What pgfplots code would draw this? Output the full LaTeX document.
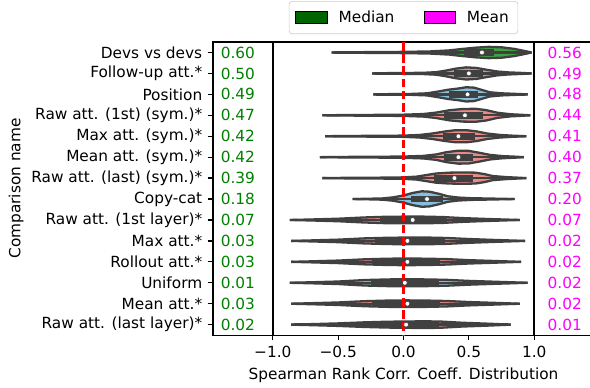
\documentclass[border=0pt]{standalone}
\usepackage{pgfplots}
\pgfplotsset{compat=1.18}
\usepackage{pgfplotstable}
\usepackage{fontspec}
\setmainfont{DejaVu Sans}
\definecolor{vgray}{HTML}{404040}
\definecolor{vsal}{HTML}{E88A85}
\definecolor{vblue}{HTML}{86C0DC}
\definecolor{vgreen}{HTML}{3FA33F}
\definecolor{mdgreen}{HTML}{006400}
\definecolor{txtgreen}{HTML}{008000}
\definecolor{txtmag}{HTML}{FF00FF}

% violin half-width profiles (x, half width in row units)
\pgfplotstableread{
x w
-0.55 0
-0.45 0.012
-0.20 0.02
0.00 0.03
0.20 0.05
0.35 0.10
0.45 0.17
0.55 0.23
0.65 0.27
0.75 0.25
0.85 0.17
0.92 0.08
0.98 0
}\tA
\pgfplotstableread{
x w
-0.24 0
-0.15 0.012
0.00 0.02
0.15 0.03
0.25 0.06
0.32 0.13
0.40 0.23
0.48 0.29
0.56 0.26
0.64 0.17
0.72 0.09
0.80 0.05
0.90 0.025
0.98 0
}\tB
\pgfplotstableread{
x w
-0.23 0
-0.10 0.012
0.05 0.02
0.18 0.05
0.26 0.13
0.34 0.22
0.42 0.28
0.48 0.34
0.54 0.32
0.60 0.21
0.66 0.10
0.75 0.05
0.85 0.025
0.95 0
}\tC
\pgfplotstableread{
x w
-0.62 0
-0.45 0.012
-0.20 0.02
0.00 0.03
0.15 0.06
0.25 0.13
0.35 0.24
0.45 0.30
0.55 0.31
0.63 0.25
0.72 0.12
0.82 0.05
0.90 0.025
0.97 0
}\tD
\pgfplotstableread{
x w
-0.60 0
-0.45 0.012
-0.20 0.02
0.00 0.03
0.12 0.06
0.22 0.13
0.32 0.23
0.40 0.29
0.48 0.29
0.56 0.23
0.64 0.13
0.74 0.06
0.84 0.025
0.94 0
}\tE
\pgfplotstableread{
x w
-0.64 0
-0.45 0.012
-0.20 0.02
0.00 0.03
0.15 0.06
0.25 0.13
0.33 0.24
0.42 0.31
0.50 0.30
0.58 0.21
0.66 0.11
0.76 0.05
0.85 0.025
0.92 0
}\tF
\pgfplotstableread{
x w
-0.62 0
-0.45 0.012
-0.20 0.02
0.00 0.035
0.10 0.07
0.18 0.15
0.25 0.22
0.35 0.26
0.45 0.27
0.55 0.26
0.62 0.19
0.68 0.10
0.78 0.05
0.86 0.025
0.94 0
}\tG
\pgfplotstableread{
x w
-0.39 0
-0.28 0.012
-0.16 0.03
-0.08 0.08
0.00 0.17
0.07 0.29
0.14 0.37
0.20 0.35
0.27 0.25
0.34 0.13
0.42 0.07
0.52 0.04
0.65 0.025
0.85 0
}\tH
\pgfplotstableread{
x w
-0.87 0
-0.70 0.025
-0.50 0.06
-0.30 0.12
-0.15 0.15
0.00 0.16
0.15 0.16
0.30 0.14
0.45 0.09
0.65 0.045
0.89 0
}\tI
\pgfplotstableread{
x w
-0.86 0
-0.70 0.025
-0.50 0.06
-0.30 0.12
-0.12 0.15
0.02 0.16
0.18 0.16
0.33 0.14
0.50 0.09
0.70 0.045
0.93 0
}\tJ
\pgfplotstableread{
x w
-0.86 0
-0.70 0.025
-0.50 0.06
-0.30 0.12
-0.12 0.15
0.02 0.16
0.18 0.15
0.33 0.13
0.50 0.08
0.70 0.04
0.90 0
}\tK
\pgfplotstableread{
x w
-0.87 0
-0.70 0.025
-0.50 0.06
-0.30 0.13
-0.12 0.16
0.02 0.17
0.18 0.16
0.33 0.14
0.50 0.09
0.72 0.045
0.95 0
}\tL
\pgfplotstableread{
x w
-0.86 0
-0.70 0.025
-0.50 0.06
-0.30 0.12
-0.12 0.15
0.02 0.16
0.18 0.15
0.33 0.13
0.50 0.08
0.70 0.04
0.89 0
}\tM
\pgfplotstableread{
x w
-0.86 0
-0.70 0.025
-0.50 0.06
-0.30 0.11
-0.12 0.14
0.02 0.15
0.15 0.16
0.28 0.15
0.45 0.09
0.65 0.045
0.82 0
}\tN

% row, colour, profile, lo, q1, q3, hi
\newcommand{\violin}[7]{%
  \addplot[vfill=#2] table[x=x, y expr=#1-\thisrow{w}] {#3};
  \addplot[vfill=#2] table[x=x, y expr=#1+\thisrow{w}] {#3};
  \addplot[vline] table[x=x, y expr=#1-\thisrow{w}] {#3};
  \addplot[vline] table[x=x, y expr=#1+\thisrow{w}] {#3};
  \addplot[whisk] coordinates {(#4,#1) (#7,#1)};
  \addplot[boxl] coordinates {(#5,#1) (#6,#1)};
}

\begin{document}
\begin{tikzpicture}
\begin{axis}[
  scale only axis,
  width=248.4pt, height=191.1pt,
  xmin=-1.457, xmax=1.457,
  ymin=-0.5, ymax=13.5, y dir=reverse,
  axis line style={line width=0.8pt},
  tick align=outside, tick pos=left,
  major tick length=3.5pt,
  every tick/.style={black, line width=0.8pt},
  xtick={-1,-0.5,0,0.5,1},
  xticklabels={−1.0,−0.5,0.0,0.5,1.0},
  ytick={0,...,13},
  yticklabels={Devs vs devs,Follow-up att.*,Position,Raw att. (1st) (sym.)*,Max att. (sym.)*,Mean att. (sym.)*,Raw att. (last) (sym.)*,Copy-cat,Raw att. (1st layer)*,Max att.*,Rollout att.*,Uniform,Mean att.*,Raw att. (last layer)*},
  tick label style={font=\fontsize{10}{12}\selectfont},
  label style={font=\fontsize{10}{12}\selectfont},
  xlabel={Spearman Rank Corr. Coeff. Distribution},
  ylabel={Comparison name},
  xlabel style={at={(axis description cs:0.5,-0.152)}, anchor=base},
  ylabel style={at={(axis description cs:-0.517,0.5)}, anchor=center},
  vfill/.style={forget plot, draw=none, fill=#1, mark=none},
  vline/.style={forget plot, draw=vgray, line width=1.5pt, mark=none, line join=round},
  whisk/.style={forget plot, draw=vgray, line width=1.5pt, mark=none},
  boxl/.style={forget plot, draw=vgray, line width=4.5pt, mark=none},
  legend style={at={(0.5,1)}, anchor=south, yshift=5.2pt, legend columns=2,
    draw=black!20, rounded corners=2pt, font=\fontsize{10}{12}\selectfont,
    inner xsep=4pt, inner ysep=4pt,
    /tikz/every odd column/.append style={column sep=5pt},
    /tikz/every even column/.append style={column sep=17pt}},
  legend image code/.code={\draw[#1, line width=0.8pt, sharp corners] (0pt,-3.9pt) rectangle (20.5pt,3.9pt);},
]
\addlegendimage{fill=mdgreen, draw=black}
\addlegendentry{Median}
\addlegendimage{fill=txtmag, draw=black}
\addlegendentry{Mean}

\violin{0}{vgreen}{\tA}{-0.53}{0.46}{0.69}{0.96}
\violin{1}{vsal}{\tB}{-0.22}{0.39}{0.61}{0.96}
\violin{2}{vblue}{\tC}{-0.21}{0.35}{0.57}{0.93}
\violin{3}{vsal}{\tD}{-0.60}{0.31}{0.61}{0.95}
\violin{4}{vsal}{\tE}{-0.58}{0.30}{0.55}{0.92}
\violin{5}{vsal}{\tF}{-0.62}{0.31}{0.53}{0.90}
\violin{6}{vsal}{\tG}{-0.60}{0.23}{0.53}{0.92}
\violin{7}{vblue}{\tH}{-0.37}{0.06}{0.30}{0.83}
\violin{8}{vsal}{\tI}{-0.85}{-0.18}{0.33}{0.87}
\violin{9}{vsal}{\tJ}{-0.84}{-0.22}{0.32}{0.91}
\violin{10}{vsal}{\tK}{-0.84}{-0.24}{0.28}{0.88}
\violin{11}{vblue}{\tL}{-0.85}{-0.25}{0.27}{0.93}
\violin{12}{vsal}{\tM}{-0.84}{-0.24}{0.28}{0.87}
\violin{13}{vsal}{\tN}{-0.84}{-0.24}{0.27}{0.80}

% reference lines
\addplot[forget plot, black, line width=1.5pt] coordinates {(-1,-0.5) (-1,13.5)};
\addplot[forget plot, black, line width=1.5pt] coordinates {(1,-0.5) (1,13.5)};
\addplot[forget plot, red, line width=1.5pt, dash pattern=on 5.55pt off 2.4pt] coordinates {(0,-0.5) (0,13.5)};

% medians (white dots)
\addplot[forget plot, only marks, mark=*, mark size=1.6pt, mark options={fill=white, draw=vgray, line width=0.4pt}] table {
x y
0.60 0
0.50 1
0.49 2
0.47 3
0.42 4
0.42 5
0.39 6
0.18 7
0.07 8
0.03 9
0.03 10
0.01 11
0.03 12
0.02 13
};

% median / mean texts
\addplot[forget plot, draw=none, mark=none, nodes near coords, point meta=explicit symbolic,
  every node near coord/.style={anchor=west, inner sep=0pt, text=txtgreen, font=\fontsize{10}{12}\selectfont}]
  table[x=x, y=y, meta=t] {
x y t
-1.4 0 0.60
-1.4 1 0.50
-1.4 2 0.49
-1.4 3 0.47
-1.4 4 0.42
-1.4 5 0.42
-1.4 6 0.39
-1.4 7 0.18
-1.4 8 0.07
-1.4 9 0.03
-1.4 10 0.03
-1.4 11 0.01
-1.4 12 0.03
-1.4 13 0.02
};
\addplot[forget plot, draw=none, mark=none, nodes near coords, point meta=explicit symbolic,
  every node near coord/.style={anchor=west, inner sep=0pt, text=txtmag, font=\fontsize{10}{12}\selectfont}]
  table[x=x, y=y, meta=t] {
x y t
1.1 0 0.56
1.1 1 0.49
1.1 2 0.48
1.1 3 0.44
1.1 4 0.41
1.1 5 0.40
1.1 6 0.37
1.1 7 0.20
1.1 8 0.07
1.1 9 0.02
1.1 10 0.02
1.1 11 0.02
1.1 12 0.02
1.1 13 0.01
};
\end{axis}
\pgfresetboundingbox
\path ([xshift=-138.9pt,yshift=-33.9pt]current axis.south west) rectangle ([xshift=-2.6pt,yshift=27.4pt]current axis.north east);
\end{tikzpicture}
\end{document}
